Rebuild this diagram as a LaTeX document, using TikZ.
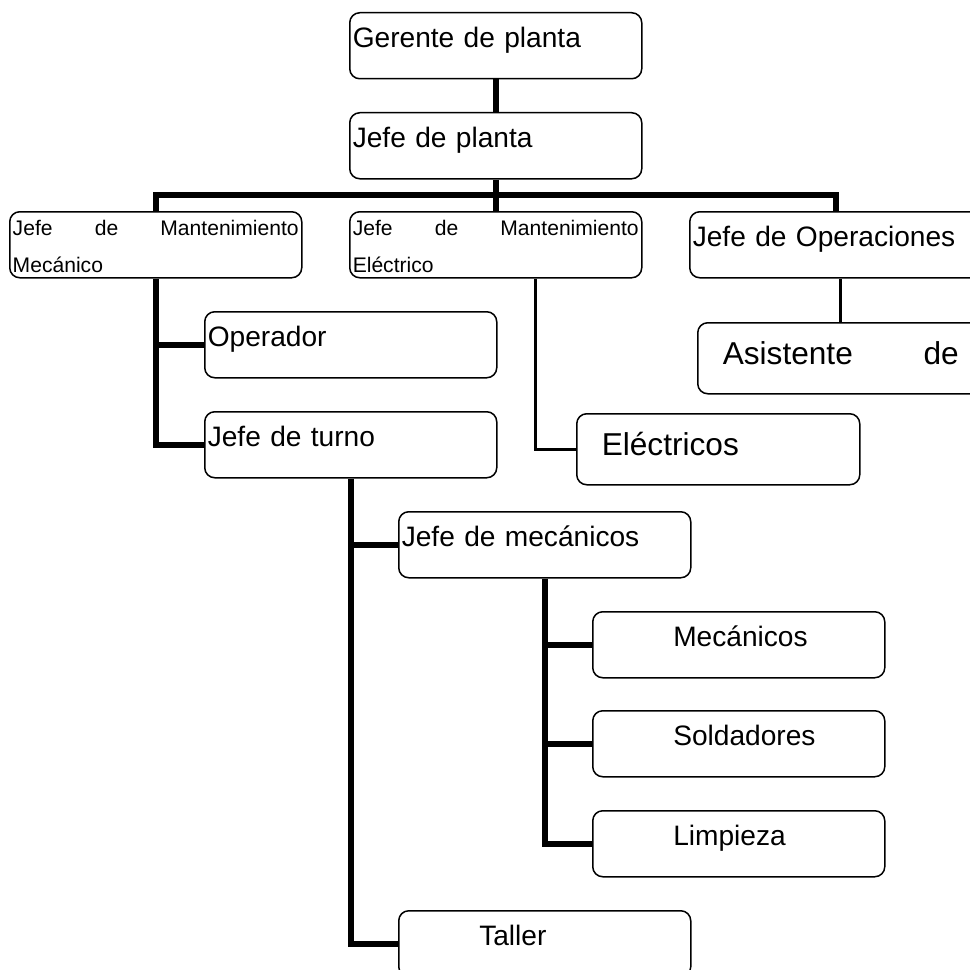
\documentclass[tikz,border=0pt]{standalone}
\usepackage{fontspec}
\setmainfont{Liberation Sans}
\usetikzlibrary{positioning}

\tikzset{
  orgbox/.style={draw, line width=0.3mm, rounded corners=2mm, anchor=north west,
    inner xsep=0.6mm, inner ysep=0pt, align=left, text width=57.2mm,
    text height=7mm, text depth=6.2mm, font=\fontsize{16}{19}\selectfont},
  smallbox/.style={orgbox, font=\fontsize{12}{21}\selectfont, text height=4.8mm, text depth=8.4mm},
  bigbox/.style={orgbox, font=\fontsize{18}{22}\selectfont, inner xsep=5mm,
    text height=8.3mm, text depth=5.9mm},
  indented/.style={execute at begin node=\hspace*{15.5mm}},
  thicklink/.style={line width=1.2mm},
  thinlink/.style={line width=0.6mm},
}

\begin{document}
\begin{tikzpicture}[x=0.2mm, y=-0.2mm]
\useasboundingbox (0,0) rectangle (969,970);

\node[orgbox] (gerente) at (349,12) {Gerente de planta};
\node[orgbox] (planta) at (349,112) {Jefe de planta};
\node[smallbox] (mecanico) at (9,211) {Jefe\hfill de\hfill Mantenimiento\\Mecánico};
\node[smallbox] (electrico) at (349,211) {Jefe\hfill de\hfill Mantenimiento\\Eléctrico};
\node[orgbox] (operaciones) at (689,211) {Jefe de Operaciones};
\node[bigbox, text width=47.2mm] (asistente) at (697,322) {Asistente\hfill de};
\node[orgbox] (operador) at (204,311) {Operador};
\node[orgbox] (turno) at (204,411) {Jefe de turno};
\node[bigbox, text width=46.6mm] (electricos) at (576,413) {Eléctricos};
\node[orgbox] (jmecanicos) at (398,511) {Jefe de mecánicos};
\node[orgbox, indented] (mecanicos) at (592,611) {Mecánicos};
\node[orgbox, indented] (soldadores) at (592,710) {Soldadores};
\node[orgbox, indented] (limpieza) at (592,810) {Limpieza};
\node[orgbox, indented] (taller) at (398,910) {Taller};

\coordinate (bar) at (0,195);
\draw[thicklink] (gerente) -- (planta);
\draw[thicklink] (planta) -- (electrico);
\draw[thicklink] (mecanico.north) |- (bar -| planta.south) -| (operaciones.north);
\draw[thinlink] ([xshift=8mm]electrico.south) |- (electricos.west);
\draw[thinlink] (asistente.north) -- (asistente.north |- operaciones.south);
\draw[thicklink] (mecanico.south) |- (turno.west);
\draw[thicklink] (mecanico.south |- operador.west) -- (operador.west);
\draw[thicklink] (turno.south) |- (taller.west);
\draw[thicklink] (turno.south |- jmecanicos.west) -- (jmecanicos.west);
\draw[thicklink] (jmecanicos.south) |- (limpieza.west);
\foreach \n in {mecanicos,soldadores}
  \draw[thicklink] (jmecanicos.south |- \n.west) -- (\n.west);
\end{tikzpicture}
\end{document}
